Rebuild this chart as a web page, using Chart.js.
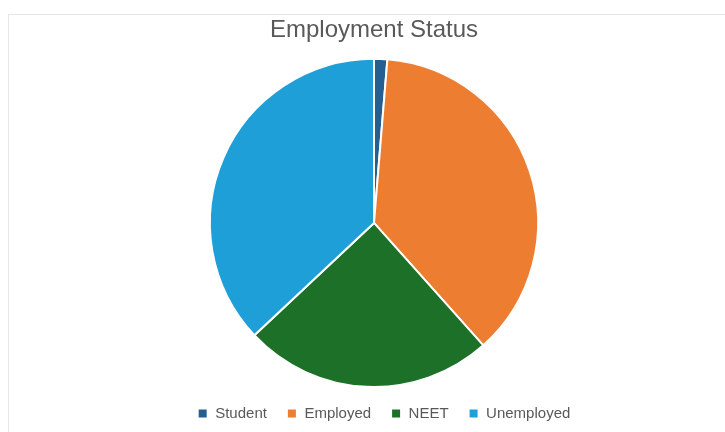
<!DOCTYPE html>
<html>
<head>
<meta charset="utf-8">
<script src="https://cdn.jsdelivr.net/npm/chart.js@4"></script>
<style>
  html, body { margin: 0; padding: 0; background: #fff; overflow: hidden; }
  #frame {
    position: absolute; left: 8px; top: 14px;
    width: 730px; height: 418px;
    border-top: 1px solid #e6e6e6; border-left: 1px solid #e6e6e6;
  }
</style>
</head>
<body>
<div id="frame"><canvas id="statusChart"></canvas></div>
<script>
// employment breakdown, percent of respondents
const categories = ['Student', 'Employed', 'NEET', 'Unemployed'];
const shares = [1.3, 37.1, 24.6, 37.0];
const sliceColors = ['#255E91', '#ED7D31', '#1D7028', '#1E9FD8'];

// nudge the legend row right of the pie centre and up a touch
const legendShift = {
  id: 'legendShift',
  afterLayout: function (chart) {
    const legend = chart.legend;
    if (legend) {
      legend.left += 10;
      legend.right += 10;
      legend.top -= 2;
      legend.bottom -= 2;
    }
  },
};

const statusChart = {
  chartInstance: null,

  init: function () {
    this.chartInstance = new Chart('statusChart', {
      type: 'pie',
      data: {
        labels: categories,
        datasets: [{
          data: shares,
          backgroundColor: sliceColors,
          borderColor: '#ffffff',
          borderWidth: 2,
        }],
      },
      options: {
        responsive: true,
        maintainAspectRatio: false,
        animation: false,
        layout: { padding: { top: 0, bottom: 0 } },
        plugins: {
          title: {
            display: true,
            text: 'Employment Status',
            color: '#595959',
            font: { family: 'Liberation Sans, Arial, sans-serif', size: 24, weight: 'normal' },
            padding: { top: 1, bottom: 13 },
          },
          legend: {
            position: 'bottom',
            labels: {
              color: '#595959',
              boxWidth: 10,
              boxHeight: 10,
              padding: 20,
              font: { family: 'Liberation Sans, Arial, sans-serif', size: 15 },
            },
          },
          tooltip: { enabled: false },
        },
      },
      plugins: [legendShift],
    });
  },
};

statusChart.init();
</script>
</body>
</html>
